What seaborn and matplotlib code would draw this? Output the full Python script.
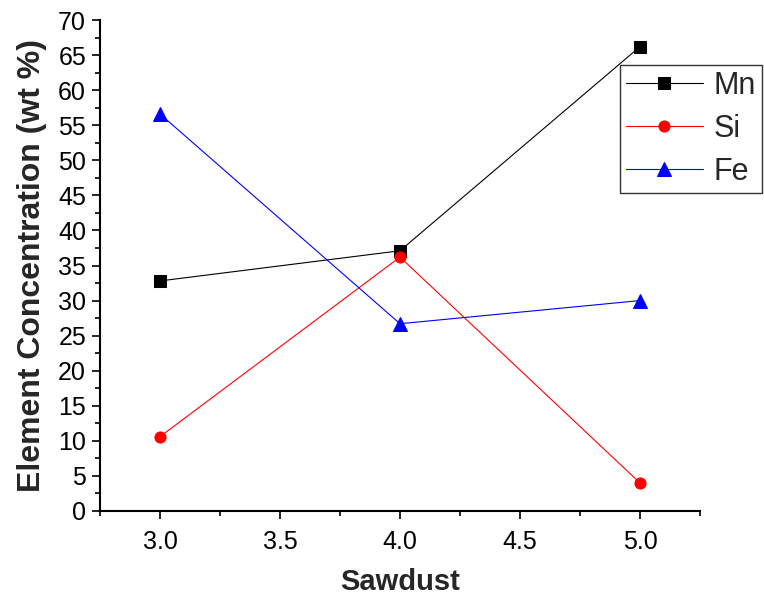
import matplotlib
matplotlib.use("Agg")
import matplotlib.pyplot as plt
import seaborn as sns
import pandas as pd
from matplotlib.ticker import MultipleLocator, FormatStrFormatter

sawdust = [3.0, 4.0, 5.0]
mn = [32.8, 37.1, 66.2]
si = [10.6, 36.2, 4.0]
fe = [56.6, 26.7, 30.0]

series = [("Mn", mn, "black", "s", 8),
          ("Si", si, "red", "o", 8),
          ("Fe", fe, "blue", "^", 10.5)]

sns.set_style("ticks")
plt.rcParams['font.family'] = ['Liberation Sans', 'DejaVu Sans']

fig = plt.figure(figsize=(7.64, 5.96), dpi=100)
ax = fig.add_axes([100/764, 1-511/596, 600/764, 491/596])

for name, vals, color, marker, ms in series:
    df = pd.DataFrame({"Sawdust": sawdust, "val": vals})
    sns.lineplot(data=df, x="Sawdust", y="val", ax=ax, color=color, marker=marker,
                 markersize=ms, markeredgecolor=color, linewidth=0.8, label=name,
                 legend=False)

ax.set_xlim(2.75, 5.25)
ax.set_ylim(0, 70)
ax.xaxis.set_major_locator(MultipleLocator(0.5))
ax.xaxis.set_minor_locator(MultipleLocator(0.25))
ax.yaxis.set_major_locator(MultipleLocator(5))
ax.yaxis.set_minor_locator(MultipleLocator(2.5))
ax.xaxis.set_major_formatter(FormatStrFormatter('%.1f'))
ax.yaxis.set_major_formatter(FormatStrFormatter('%d'))

for s in ['top', 'right']:
    ax.spines[s].set_visible(False)
for s in ['left', 'bottom']:
    ax.spines[s].set_linewidth(1.5)
    ax.spines[s].set_color('black')

ax.tick_params(which='major', direction='out', length=6, width=1.2, labelsize=18,
               colors='black')
ax.tick_params(which='minor', direction='out', length=3.5, width=1.2, colors='black')
ax.tick_params(axis='y', which='major', pad=4)
ax.tick_params(axis='x', which='major', pad=8)

ax.set_xlabel("Sawdust", fontsize=21, fontweight='bold', labelpad=10)
ax.set_ylabel("Element Concentration (wt %)", fontsize=23, fontweight='bold', labelpad=8)

handles, labels = ax.get_legend_handles_labels()
leg = fig.legend(handles, labels, loc='upper left',
                 bbox_to_anchor=(620/764, 1-65/596), bbox_transform=fig.transFigure,
                 borderaxespad=0, fontsize=22, handlelength=2.5, handletextpad=0.35,
                 labelspacing=0.42, borderpad=0.2, frameon=True, fancybox=False)
leg.get_frame().set_edgecolor('black')
leg.get_frame().set_linewidth(1.0)

fig.savefig("out.png", dpi=100)
